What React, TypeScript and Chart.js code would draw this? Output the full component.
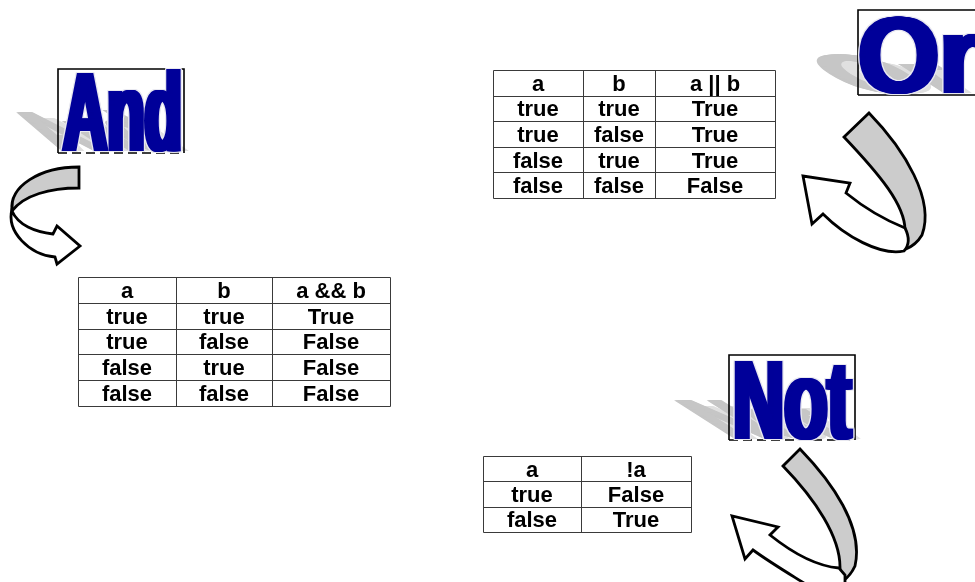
import React, { useEffect, useRef } from 'react';
import { Chart, registerables } from 'chart.js';

Chart.register(...registerables);

// ---- Data ----
const andHeaders = ['a', 'b', 'a && b'];
const andColA = ['true', 'true', 'false', 'false'];
const andColB = ['true', 'false', 'true', 'false'];
const andResult = ['True', 'False', 'False', 'False'];

const orHeaders = ['a', 'b', 'a || b'];
const orColA = ['true', 'true', 'false', 'false'];
const orColB = ['true', 'false', 'true', 'false'];
const orResult = ['True', 'True', 'True', 'False'];

const notHeaders = ['a', '!a'];
const notColA = ['true', 'false'];
const notResult = ['False', 'True'];

const titles = ['And', 'Or', 'Not'];

// ---- Layout (page units mapped through the chart's scales) ----
const W = 975;
const H = 582;

const tables = [
  { headers: andHeaders, cols: [andColA, andColB, andResult], xEdges: [78, 176, 272, 390], top: 277, rowH: 25.8 },
  { headers: orHeaders, cols: [orColA, orColB, orResult], xEdges: [493, 583, 655, 775], top: 70, rowH: 25.6 },
  { headers: notHeaders, cols: [notColA, notResult], xEdges: [483, 581, 691], top: 456, rowH: 25.4 },
];

const words = [
  { text: titles[0], box: [58, 69, 184, 153], x0: 60, base: 151, size: 113, width: 125, sx: 0, dashed: true },
  { text: titles[1], box: [858, 10, 990, 95], x0: 855, base: 93, size: 110, width: 0, sx: 0.95, dashed: false },
  { text: titles[2], box: [729, 355, 855, 440], x0: 730, base: 439, size: 113, width: 124, sx: 0, dashed: true },
];

type Cmd = (string | number)[];

const arrows: { gray: Cmd[]; white: Cmd[] }[] = [
  {
    gray: [
      ['M', 79, 167], ['L', 79, 188],
      ['C', 50, 188, 24, 195, 12, 211],
      ['C', 9, 186, 40, 167, 79, 167], ['Z'],
    ],
    white: [
      ['M', 12, 209],
      ['C', 6, 232, 30, 255, 55, 257],
      ['L', 57, 264], ['L', 80, 246], ['L', 57, 226], ['L', 53, 234],
      ['C', 35, 232, 18, 225, 12, 211], ['Z'],
    ],
  },
  {
    gray: [
      ['M', 844, 137], ['L', 869, 113],
      ['C', 905, 150, 935, 200, 922, 235],
      ['Q', 916, 245, 906, 249],
      ['L', 905, 230],
      ['C', 905, 205, 880, 175, 844, 137], ['Z'],
    ],
    white: [
      ['M', 905, 228],
      ['C', 880, 218, 862, 206, 846, 193],
      ['L', 850, 183], ['L', 803, 176], ['L', 812, 224], ['L', 823, 214],
      ['C', 845, 236, 880, 256, 904, 251],
      ['Q', 912, 242, 905, 228], ['Z'],
    ],
  },
  {
    gray: [
      ['M', 783, 466], ['L', 800, 449],
      ['C', 832, 482, 864, 527, 855, 566],
      ['Q', 850, 577, 840, 583],
      ['L', 840, 567],
      ['C', 840, 537, 816, 500, 783, 466], ['Z'],
    ],
    white: [
      ['M', 839, 568],
      ['C', 815, 566, 790, 551, 770, 535],
      ['L', 778, 527], ['L', 732, 516], ['L', 745, 559], ['L', 753, 550],
      ['C', 775, 566, 800, 580, 818, 592],
      ['L', 845, 592], ['L', 845, 575], ['Z'],
    ],
  },
];

const FONT = '"Liberation Sans", Arial, Helvetica, sans-serif';
const SMEAR = 6;

function drawPlugin() {
  return {
    id: 'truthSlide',
    afterDraw(chart: any) {
      const ctx: CanvasRenderingContext2D = chart.ctx;
      const sx = chart.scales.x;
      const sy = chart.scales.y;
      const X = (v: number) => sx.getPixelForValue(v);
      const Y = (v: number) => sy.getPixelForValue(v);
      const kx = (X(100) - X(0)) / 100;
      const ky = (Y(100) - Y(0)) / 100;

      // ---- WordArt titles ----
      words.forEach((w) => {
        ctx.save();
        ctx.font = `bold ${w.size * ky}px ${FONT}`;
        ctx.textBaseline = 'alphabetic';
        const natural = ctx.measureText(w.text).width;
        const s = w.sx > 0 ? w.sx : (w.width * kx - SMEAR) / natural;
        const ox = X(w.x0);
        const oy = Y(w.base);
        // shadows
        ctx.fillStyle = '#e0e0e0';
        for (let d = 0; d <= SMEAR; d++) {
          ctx.setTransform(s, 0, 0.6, 0.42, ox + 8 + d, oy);
          ctx.fillText(w.text, 0, 0);
        }
        ctx.fillStyle = '#c6c6c6';
        for (let d = 0; d <= SMEAR; d++) {
          ctx.setTransform(s, 0, 0.78, 0.5, ox + d, oy);
          ctx.fillText(w.text, 0, 0);
        }
        ctx.setTransform(1, 0, 0, 1, 0, 0);
        // box
        const [bx1, by1, bx2, by2] = w.box;
        ctx.strokeStyle = '#000';
        ctx.lineWidth = 1.6;
        ctx.beginPath();
        ctx.moveTo(X(bx1), Y(by2));
        ctx.lineTo(X(bx1), Y(by1));
        ctx.lineTo(X(bx2), Y(by1));
        ctx.lineTo(X(bx2), Y(by2));
        ctx.stroke();
        ctx.beginPath();
        if (w.dashed) ctx.setLineDash([9, 5]);
        ctx.moveTo(X(bx1), Y(by2));
        ctx.lineTo(X(bx2), Y(by2));
        ctx.stroke();
        ctx.setLineDash([]);
        // halo
        ctx.fillStyle = '#e8e8f0';
        for (let dx = -1; dx <= SMEAR + 1; dx++) {
          for (let dy = -1; dy <= 1; dy++) {
            ctx.setTransform(s, 0, 0, 1, ox + dx, oy + dy);
            ctx.fillText(w.text, 0, 0);
          }
        }
        // fill
        ctx.fillStyle = '#000099';
        for (let dx = 0; dx <= SMEAR; dx++) {
          ctx.setTransform(s, 0, 0, 1, ox + dx, oy);
          ctx.fillText(w.text, 0, 0);
        }
        ctx.restore();
      });

      // ---- Ribbon arrows ----
      const trace = (cmds: Cmd[]) => {
        ctx.beginPath();
        cmds.forEach((c) => {
          const n = c.slice(1) as number[];
          if (c[0] === 'M') ctx.moveTo(X(n[0]), Y(n[1]));
          else if (c[0] === 'L') ctx.lineTo(X(n[0]), Y(n[1]));
          else if (c[0] === 'C') ctx.bezierCurveTo(X(n[0]), Y(n[1]), X(n[2]), Y(n[3]), X(n[4]), Y(n[5]));
          else if (c[0] === 'Q') ctx.quadraticCurveTo(X(n[0]), Y(n[1]), X(n[2]), Y(n[3]));
          else if (c[0] === 'Z') ctx.closePath();
        });
      };
      arrows.forEach((a) => {
        ctx.save();
        ctx.lineWidth = 2.8;
        ctx.lineJoin = 'miter';
        ctx.strokeStyle = '#000';
        trace(a.gray);
        ctx.fillStyle = '#cccccc';
        ctx.fill();
        ctx.stroke();
        trace(a.white);
        ctx.fillStyle = '#ffffff';
        ctx.fill();
        ctx.stroke();
        ctx.restore();
      });

      // ---- Truth tables ----
      tables.forEach((t) => {
        const nRows = t.cols[0].length + 1;
        const bottom = t.top + nRows * t.rowH;
        ctx.save();
        ctx.strokeStyle = '#3a3a3a';
        ctx.lineWidth = 1;
        ctx.beginPath();
        t.xEdges.forEach((xe) => {
          const px = Math.round(X(xe)) + 0.5;
          ctx.moveTo(px, Math.round(Y(t.top)) + 0.5);
          ctx.lineTo(px, Math.round(Y(bottom)) + 0.5);
        });
        for (let r = 0; r <= nRows; r++) {
          const py = Math.round(Y(t.top + r * t.rowH)) + 0.5;
          ctx.moveTo(Math.round(X(t.xEdges[0])) + 0.5, py);
          ctx.lineTo(Math.round(X(t.xEdges[t.xEdges.length - 1])) + 0.5, py);
        }
        ctx.stroke();

        ctx.fillStyle = '#000';
        ctx.font = `bold ${22 * ky}px ${FONT}`;
        ctx.textAlign = 'center';
        ctx.textBaseline = 'alphabetic';
        for (let c = 0; c < t.headers.length; c++) {
          const cx = X((t.xEdges[c] + t.xEdges[c + 1]) / 2);
          ctx.fillText(t.headers[c], cx, Y(t.top + t.rowH / 2 + 7.9));
          t.cols[c].forEach((val, r) => {
            ctx.fillText(val, cx, Y(t.top + (r + 1) * t.rowH + t.rowH / 2 + 7.9));
          });
        }
        ctx.restore();
      });
    },
  };
}

export default function App() {
  const canvasRef = useRef<HTMLCanvasElement | null>(null);

  useEffect(() => {
    if (!canvasRef.current) return;
    const chart = new Chart(canvasRef.current, {
      type: 'scatter',
      data: { datasets: [] },
      options: {
        animation: false,
        responsive: false,
        devicePixelRatio: 1,
        layout: { padding: 0 },
        events: [],
        scales: {
          x: { type: 'linear', min: 0, max: W, display: false },
          y: { type: 'linear', min: 0, max: H, reverse: true, display: false },
        },
        plugins: { legend: { display: false }, tooltip: { enabled: false }, title: { display: false } },
      },
      plugins: [drawPlugin()],
    });
    return () => chart.destroy();
  }, []);

  return (
    <div style={{ position: 'absolute', left: 0, top: 0, width: W, height: H, background: '#fff' }}>
      <canvas ref={canvasRef} width={W} height={H} style={{ width: W, height: H, display: 'block' }} />
    </div>
  );
}
